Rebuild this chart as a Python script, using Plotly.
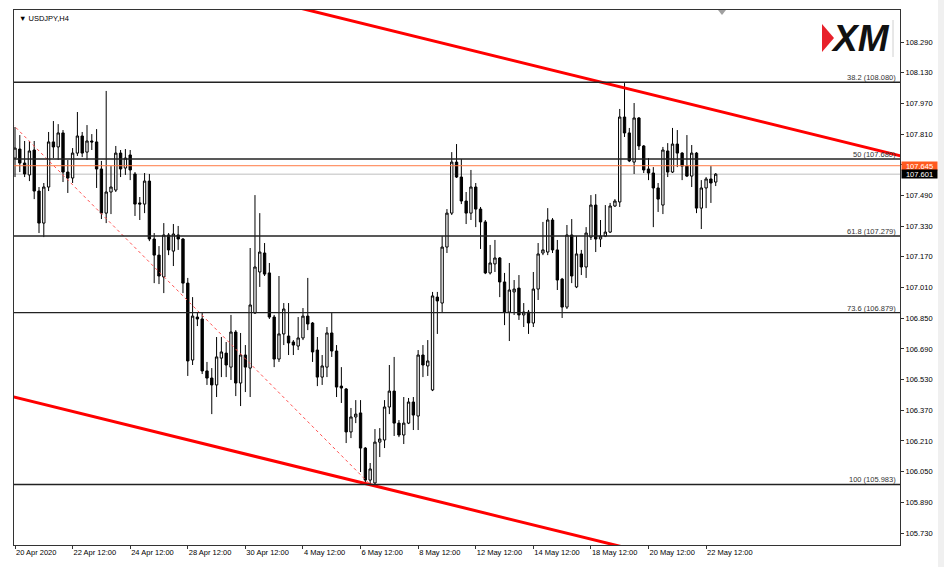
import plotly.graph_objects as go

# ---------------- data (USDJPY, H4) ----------------
bar_index = list(range(147))

open_ = [
107.685,107.732,107.659,107.597,107.727,107.513,107.346,107.534,107.769,107.743,
107.816,107.612,107.581,107.711,107.800,107.716,107.774,107.769,107.628,107.398,
107.508,107.518,107.711,107.633,107.701,107.602,107.451,107.445,107.565,107.263,
107.179,107.065,107.284,107.200,107.284,107.263,107.033,106.632,106.856,106.846,
106.575,106.538,106.502,106.642,106.668,106.595,106.778,106.512,106.658,106.590,
106.877,107.091,107.190,107.086,106.856,106.637,106.768,106.757,106.726,106.705,
106.747,106.861,106.825,106.684,106.543,106.595,106.773,106.679,106.496,106.481,
106.257,106.335,106.356,106.173,106.006,105.991,106.204,106.215,106.387,106.470,
106.303,106.241,106.303,106.413,106.340,106.658,106.601,106.476,106.960,106.929,
107.221,107.398,107.664,107.586,107.461,107.398,107.534,107.419,107.352,107.086,
107.133,107.164,107.039,106.882,106.987,107.007,106.867,106.882,106.825,107.002,
107.190,107.195,107.362,107.206,107.054,106.908,107.284,107.013,107.185,107.117,
107.273,107.440,107.263,107.278,107.299,107.435,107.456,107.899,107.816,107.664,
107.894,107.748,107.628,107.607,107.529,107.440,107.722,107.612,107.758,107.711,
107.643,107.591,107.711,107.424,107.529,107.576,107.560]

high = [
107.847,107.805,107.774,107.774,107.774,107.534,107.555,107.821,107.878,107.862,
107.831,107.675,107.737,107.925,107.821,107.857,107.810,107.836,107.670,108.035,
107.643,107.748,107.727,107.732,107.727,107.612,107.482,107.607,107.602,107.294,
107.226,107.346,107.294,107.341,107.331,107.268,107.060,106.960,106.882,106.882,
106.622,106.590,106.752,106.752,106.726,106.867,106.788,106.773,106.710,107.216,
107.492,107.398,107.242,107.138,106.867,107.070,106.929,106.929,106.736,106.856,
106.903,107.060,106.830,106.752,106.658,106.804,106.882,106.710,106.595,106.486,
106.382,106.423,106.423,106.178,106.095,106.272,106.277,106.423,106.606,106.648,
106.319,106.439,106.434,106.439,106.684,106.710,106.736,106.987,106.987,107.278,
107.419,107.716,107.758,107.680,107.508,107.623,107.555,107.430,107.362,107.232,
107.258,107.169,107.086,107.138,107.049,107.075,106.929,106.893,107.091,107.242,
107.352,107.424,107.372,107.258,107.060,107.336,107.367,107.278,107.206,107.325,
107.492,107.497,107.362,107.440,107.451,107.471,107.941,108.076,107.842,107.972,
107.899,107.753,107.685,107.638,107.555,107.743,107.763,107.842,107.831,107.716,
107.805,107.753,107.716,107.570,107.586,107.643,107.607]

low = [
107.586,107.612,107.586,107.565,107.471,107.294,107.273,107.513,107.685,107.675,
107.560,107.503,107.555,107.696,107.690,107.675,107.727,107.529,107.367,107.346,
107.393,107.508,107.586,107.597,107.570,107.383,107.362,107.398,107.252,107.033,
107.028,106.981,107.179,107.122,107.206,106.981,106.549,106.606,106.809,106.559,
106.502,106.350,106.439,106.543,106.543,106.528,106.444,106.392,106.465,106.439,
106.872,107.013,107.070,106.846,106.595,106.622,106.710,106.658,106.658,106.684,
106.736,106.788,106.622,106.496,106.502,106.543,106.648,106.439,106.408,106.199,
106.225,106.303,106.048,105.996,105.983,105.985,106.126,106.173,106.350,106.236,
106.230,106.194,106.298,106.267,106.267,106.543,106.549,106.470,106.768,106.877,
107.190,107.388,107.581,107.445,107.341,107.362,107.325,107.211,107.080,107.078,
107.091,106.960,106.814,106.731,106.867,106.841,106.804,106.768,106.804,106.945,
107.179,107.179,107.190,106.997,106.851,106.898,107.033,107.007,107.075,107.060,
107.258,107.195,107.221,107.273,107.294,107.430,107.430,107.795,107.664,107.602,
107.727,107.607,107.570,107.325,107.404,107.393,107.586,107.607,107.638,107.570,
107.586,107.534,107.398,107.315,107.424,107.451,107.539]

close = [
107.737,107.659,107.602,107.722,107.513,107.346,107.534,107.769,107.743,107.816,
107.612,107.581,107.711,107.800,107.711,107.774,107.769,107.628,107.398,107.508,
107.534,107.711,107.628,107.685,107.623,107.445,107.445,107.565,107.263,107.179,
107.070,107.284,107.206,107.289,107.263,107.033,106.627,106.861,106.846,106.575,
106.538,106.502,106.648,106.674,106.606,106.778,106.512,106.658,106.595,106.919,
107.117,107.195,107.080,106.856,106.637,106.768,106.898,106.721,106.710,106.747,
106.861,106.820,106.674,106.543,106.601,106.773,106.679,106.491,106.486,106.257,
106.335,106.350,106.173,106.006,106.064,106.204,106.220,106.387,106.470,106.303,
106.241,106.303,106.413,106.345,106.658,106.606,106.627,106.966,106.940,107.221,
107.398,107.664,107.586,107.461,107.398,107.534,107.419,107.352,107.086,107.138,
107.164,107.039,106.882,106.997,107.002,106.867,106.882,106.825,107.002,107.185,
107.206,107.362,107.206,107.049,106.908,107.284,107.070,107.185,107.117,107.294,
107.440,107.263,107.278,107.299,107.435,107.461,107.899,107.816,107.670,107.894,
107.748,107.623,107.607,107.529,107.471,107.727,107.612,107.758,107.711,107.643,
107.591,107.711,107.424,107.529,107.576,107.555,107.601]

date_tick_bars = [0, 12, 24, 36, 48, 60, 72, 84, 96, 108, 120, 132, 144]
date_tick_labels = ["20 Apr 2020", "22 Apr 12:00", "24 Apr 12:00", "28 Apr 12:00",
                    "30 Apr 12:00", "4 May 12:00", "6 May 12:00", "8 May 12:00",
                    "12 May 12:00", "14 May 12:00", "18 May 12:00", "20 May 12:00",
                    "22 May 12:00"]

price_tick_labels = ["105.730", "105.890", "106.050", "106.210", "106.370", "106.530",
                     "106.690", "106.850", "107.010", "107.170", "107.330", "107.490",
                     "107.650", "107.810", "107.970", "108.130", "108.290"]
price_tick_values = [float(s) for s in price_tick_labels]

fib_levels = ["38.2", "50", "61.8", "73.6", "100"]
fib_prices = [108.080, 107.680, 107.279, 106.879, 105.983]
fib_anchor_bars = [-60.6, 74]
fib_anchor_prices = [109.376, 105.983]

upper_anchor_bars = [61, 125]
upper_anchor_prices = [108.457, 108.063]
lower_anchor_bars = [0, 125]
lower_anchor_prices = [106.4375, 105.6675]

ask_price = 107.645
bid_price = 107.601

symbol_label = "▼ USDJPY,H4"

# ---------------- layout geometry ----------------
W, H = 944, 567
L, R, T, B = 14, 900, 10, 545
x_range = [-0.21, 184.4]
y_range = [105.6675, 108.457]


def px(x):
    return (x - L) / (R - L)


def py(y):
    return (B - y) / (B - T)


def ray(bars, prices, xs):
    s = (prices[1] - prices[0]) / (bars[1] - bars[0])
    return [prices[0] + s * (x - bars[0]) for x in xs]


FONT = "Liberation Sans"
fig = go.Figure()

fig.add_trace(go.Candlestick(
    x=bar_index, open=open_, high=high, low=low, close=close,
    increasing=dict(line=dict(color="black", width=1), fillcolor="white"),
    decreasing=dict(line=dict(color="black", width=1), fillcolor="black"),
    whiskerwidth=0, showlegend=False, hoverinfo="skip"))

ext = [-80, 200]
fig.add_trace(go.Scatter(x=ext, y=ray(upper_anchor_bars, upper_anchor_prices, ext),
                         mode="lines", line=dict(color="#ff0000", width=3),
                         showlegend=False, hoverinfo="skip"))
fig.add_trace(go.Scatter(x=ext, y=ray(lower_anchor_bars, lower_anchor_prices, ext),
                         mode="lines", line=dict(color="#ff0000", width=3),
                         showlegend=False, hoverinfo="skip"))
fig.add_trace(go.Scatter(x=fib_anchor_bars, y=fib_anchor_prices, mode="lines",
                         line=dict(color="#ff5050", width=1, dash="dot"),
                         showlegend=False, hoverinfo="skip"))

shapes = []
for p in fib_prices:
    shapes.append(dict(type="line", xref="paper", yref="y", x0=0, x1=1, y0=p, y1=p,
                       line=dict(color="#222222", width=1.4), layer="above"))
shapes.append(dict(type="line", xref="paper", yref="y", x0=0, x1=1, y0=ask_price, y1=ask_price,
                   line=dict(color="#ff7a45", width=1), layer="above"))
shapes.append(dict(type="line", xref="paper", yref="y", x0=0, x1=1, y0=bid_price, y1=bid_price,
                   line=dict(color="#d4d4d4", width=1.5), layer="below"))
# chart-shift marker
shapes.append(dict(type="path", xref="paper", yref="paper",
                   path=f"M {px(718)} {py(10)} L {px(726)} {py(10)} L {px(722)} {py(15)} Z",
                   fillcolor="#a0a0a0", line=dict(width=0)))
# logo wedge
shapes.append(dict(type="path", xref="paper", yref="paper",
                   path=f"M {px(822)} {py(24)} L {px(834)} {py(38)} L {px(822)} {py(52)} Z",
                   fillcolor="#e8202a", line=dict(width=0)))
shapes.append(dict(type="line", xref="paper", yref="paper", x0=px(893), x1=px(893),
                   y0=py(20), y1=py(57), line=dict(color="#d0d0d0", width=1)))
# window frame strip on the far right
shapes.append(dict(type="rect", xref="paper", yref="paper", x0=px(938), x1=px(944),
                   y0=py(0), y1=py(567), fillcolor="#f0f0f0", line=dict(width=0)))

annotations = []
annotations.append(dict(xref="paper", yref="paper", x=px(17), y=py(12), xanchor="left",
                        yanchor="top", text=symbol_label, showarrow=False,
                        font=dict(family=FONT, size=7.5, color="#000")))
for lab, p in zip(fib_levels, fib_prices):
    annotations.append(dict(xref="paper", yref="y", x=px(898), y=p, xanchor="right",
                            yanchor="bottom", yshift=-2, text=f"{lab} ({p:.3f})", showarrow=False,
                            font=dict(family=FONT, size=7.5, color="#333")))
annotations.append(dict(xref="paper", yref="y", x=1, y=ask_price, xanchor="left", yanchor="middle",
                        xshift=1, text=f"{ask_price:.3f}", showarrow=False, bgcolor="#ff5a1f",
                        width=35, height=8, borderpad=0,
                        font=dict(family=FONT, size=7.5, color="white")))
annotations.append(dict(xref="paper", yref="y", x=1, y=bid_price, xanchor="left", yanchor="middle",
                        xshift=1, text=f"{bid_price:.3f}", showarrow=False, bgcolor="#000000",
                        width=35, height=8, borderpad=0,
                        font=dict(family=FONT, size=7.5, color="white")))
annotations.append(dict(xref="paper", yref="paper", x=px(860), y=py(38.5), xanchor="center",
                        yanchor="middle", text="<b><i>XM</i></b>", showarrow=False,
                        font=dict(family=FONT, size=37, color="#111")))

fig.update_layout(
    width=W, height=H,
    margin=dict(l=L, r=W - R, t=T, b=H - B, pad=0),
    paper_bgcolor="white", plot_bgcolor="white",
    font=dict(family=FONT, size=7.5, color="#000"),
    shapes=shapes, annotations=annotations,
    xaxis=dict(range=x_range, rangeslider=dict(visible=False), showgrid=False, zeroline=False,
               tickmode="array", tickvals=date_tick_bars, ticktext=date_tick_labels,
               ticks="outside", ticklen=3, tickcolor="#333", ticklabelposition="outside right",
               tickfont=dict(family=FONT, size=7.5, color="#000"),
               showline=True, mirror=True, linecolor="#333", linewidth=1),
    yaxis=dict(range=y_range, side="right", showgrid=False, zeroline=False,
               tickmode="array", tickvals=price_tick_values, ticktext=price_tick_labels,
               ticks="outside", ticklen=3, tickcolor="#333",
               tickfont=dict(family=FONT, size=7.5, color="#000"),
               showline=True, mirror=True, linecolor="#333", linewidth=1),
)

fig.write_html("out.html", config={"displayModeBar": False},
               post_script="document.body.style.margin='0px';")
